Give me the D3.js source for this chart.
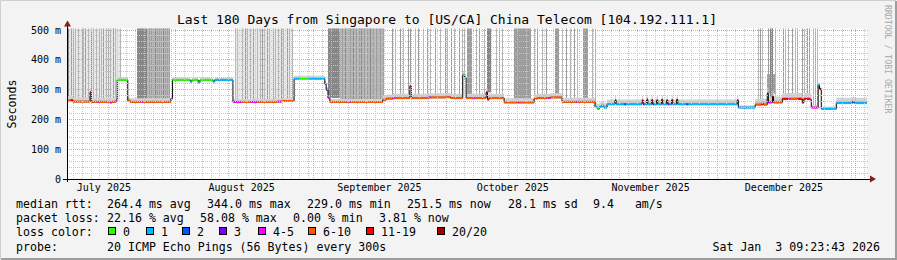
<!DOCTYPE html>
<html>
<head>
<meta charset="utf-8">
<script src="https://cdn.jsdelivr.net/npm/d3@7"></script>
<style>
body { margin: 0; background: #f3f3f3; }
svg text { font-family: "DejaVu Sans Mono", monospace; white-space: pre; }
</style>
</head>
<body>
<script>
// ***************** data *****************
var titleText = "Last 180 Days from Singapore to [US/CA] China Telecom [104.192.111.1]";
var timeRange = ["2025-07-07 16:48", "2026-01-03 16:48"];
var yTicks = [0, 100, 200, 300, 400, 500];
var yTickLabels = ["0", "100 m", "200 m", "300 m", "400 m", "500 m"];

var lossLabels = ["0", "1", "2", "3", "4-5", "6-10", "11-19", "20/20"];
var lossColors = ["#26ff00", "#00b8ff", "#0059ff", "#7e00ff", "#ff00ff", "#ff5500", "#ff0000", "#a10000"];

var rttStats = ["264.4 ms avg", "344.0 ms max", "229.0 ms min", "251.5 ms now", "28.1 ms sd", "9.4   am/s"];
var lossStats = ["22.16 % avg", "58.08 % max", "0.00 % min", "3.81 % now"];
var probeText = "20 ICMP Echo Pings (56 Bytes) every 300s";
var stampText = "Sat Jan  3 09:23:43 2026";

// median rtt (ms) and loss bucket, each row holds until the next one
var medianSteps = [
  ["2025-07-07 17:00", 262, 5], ["2025-07-08 14:00", 263, 6], ["2025-07-09 01:00", 258, 5],
  ["2025-07-12 21:00", 289, 7], ["2025-07-13 03:00", 257, 5], ["2025-07-14 12:00", 257, 4],
  ["2025-07-14 20:00", 257, 5], ["2025-07-17 09:00", 255, 4], ["2025-07-17 20:00", 257, 5],
  ["2025-07-18 18:00", 263, 4], ["2025-07-19 00:00", 331, 0], ["2025-07-21 09:00", 262, 5],
  ["2025-07-21 21:00", 257, 5], ["2025-07-24 12:00", 257, 4], ["2025-07-24 20:00", 257, 5],
  ["2025-07-31 02:00", 268, 4], ["2025-07-31 10:00", 331, 0], ["2025-08-04 10:00", 325, 1],
  ["2025-08-04 20:00", 331, 0], ["2025-08-06 05:00", 322, 1], ["2025-08-06 15:00", 331, 0],
  ["2025-08-09 13:00", 325, 1], ["2025-08-09 23:00", 331, 1], ["2025-08-14 01:00", 257, 4],
  ["2025-08-16 00:00", 257, 5], ["2025-08-18 00:00", 257, 4], ["2025-08-19 12:00", 257, 5],
  ["2025-08-24 00:00", 258, 4], ["2025-08-25 00:00", 260, 5], ["2025-08-27 19:00", 335, 1],
  ["2025-08-29 00:00", 335, 0], ["2025-08-31 00:00", 335, 1], ["2025-09-03 17:00", 318, 2],
  ["2025-09-04 00:00", 298, 3], ["2025-09-04 10:00", 270, 4], ["2025-09-04 20:00", 257, 5],
  ["2025-09-09 00:00", 257, 4], ["2025-09-09 12:00", 257, 5], ["2025-09-16 18:00", 264, 5],
  ["2025-09-17 12:00", 268, 5], ["2025-09-19 00:00", 270, 4], ["2025-09-19 12:00", 270, 5],
  ["2025-09-22 20:00", 309, 7], ["2025-09-23 04:00", 270, 5], ["2025-09-27 00:00", 272, 4],
  ["2025-09-27 12:00", 272, 5], ["2025-10-01 00:00", 273, 5], ["2025-10-02 00:00", 270, 5],
  ["2025-10-04 18:00", 348, 0], ["2025-10-05 04:00", 338, 1], ["2025-10-05 12:00", 270, 5],
  ["2025-10-07 00:00", 270, 4], ["2025-10-07 12:00", 270, 5], ["2025-10-10 00:00", 289, 7],
  ["2025-10-10 08:00", 265, 6], ["2025-10-10 16:00", 270, 5], ["2025-10-14 01:00", 255, 5],
  ["2025-10-17 00:00", 255, 4], ["2025-10-17 12:00", 255, 5], ["2025-10-20 19:00", 268, 5],
  ["2025-10-21 12:00", 270, 5], ["2025-10-24 00:00", 270, 4], ["2025-10-24 12:00", 272, 5],
  ["2025-10-27 02:00", 257, 5], ["2025-10-30 00:00", 257, 4], ["2025-10-30 12:00", 257, 5],
  ["2025-11-03 12:00", 240, 1], ["2025-11-04 00:00", 234, 0], ["2025-11-04 12:00", 240, 1],
  ["2025-11-05 00:00", 244, 1], ["2025-11-05 12:00", 238, 1], ["2025-11-06 05:00", 249, 1],
  ["2025-11-08 00:00", 262, 7], ["2025-11-08 06:00", 249, 1], ["2025-11-10 00:00", 249, 2],
  ["2025-11-10 12:00", 249, 1], ["2025-11-14 02:00", 262, 7], ["2025-11-14 08:00", 249, 3],
  ["2025-11-14 16:00", 249, 1], ["2025-11-15 03:00", 265, 7], ["2025-11-15 09:00", 249, 1],
  ["2025-11-16 06:00", 263, 7], ["2025-11-16 12:00", 249, 2], ["2025-11-16 20:00", 249, 1],
  ["2025-11-17 09:00", 262, 7], ["2025-11-17 15:00", 249, 1], ["2025-11-18 12:00", 264, 7],
  ["2025-11-18 18:00", 249, 1], ["2025-11-19 15:00", 262, 7], ["2025-11-19 21:00", 249, 3],
  ["2025-11-20 06:00", 249, 1], ["2025-11-20 18:00", 263, 7], ["2025-11-21 00:00", 249, 1],
  ["2025-11-21 21:00", 264, 7], ["2025-11-22 03:00", 249, 1], ["2025-11-24 00:00", 249, 2],
  ["2025-11-24 12:00", 249, 1], ["2025-12-05 12:00", 262, 7], ["2025-12-05 18:00", 238, 1],
  ["2025-12-07 00:00", 238, 2], ["2025-12-07 12:00", 238, 1], ["2025-12-09 13:00", 248, 5],
  ["2025-12-11 00:00", 250, 6], ["2025-12-11 12:00", 248, 5], ["2025-12-12 06:00", 285, 7],
  ["2025-12-12 12:00", 255, 4], ["2025-12-13 10:00", 275, 7], ["2025-12-13 16:00", 255, 5],
  ["2025-12-15 15:00", 267, 6], ["2025-12-17 00:00", 267, 4], ["2025-12-17 12:00", 267, 5],
  ["2025-12-19 00:00", 267, 6], ["2025-12-20 03:00", 255, 7], ["2025-12-20 12:00", 267, 6],
  ["2025-12-21 22:00", 265, 4], ["2025-12-22 04:00", 238, 4], ["2025-12-23 17:00", 314, 1],
  ["2025-12-24 00:00", 300, 7], ["2025-12-24 10:00", 234, 1], ["2025-12-27 19:00", 253, 1],
  ["2025-12-31 09:00", 256, 3], ["2025-12-31 20:00", 253, 1], ["2026-01-03 16:48", 253, 1]
];

// smoke spread around the median: ms below, ms above
var smokeBand = [
  ["2025-07-07 17:00", 4, 14], ["2025-07-19 00:00", 3, 8], ["2025-07-21 09:00", 4, 12],
  ["2025-07-31 10:00", 3, 8], ["2025-08-14 01:00", 4, 10], ["2025-08-27 19:00", 3, 10],
  ["2025-09-04 10:00", 4, 10], ["2025-09-16 18:00", 4, 14], ["2025-11-03 12:00", 3, 16],
  ["2025-12-05 18:00", 3, 8], ["2025-12-09 13:00", 4, 20], ["2025-12-22 04:00", 3, 8],
  ["2025-12-27 19:00", 3, 18]
];

// tall smoke (slow pings): start, duration in hours, top ms, shade 0..3
var smokeSpikes = [
  ["2025-07-07 17:00", 286, 600, 0], ["2025-08-14 12:00", 300, 600, 0],
  ["2025-07-07 17:00", 10, 600, 3], ["2025-07-08 14:00", 5, 600, 2], ["2025-07-09 01:00", 5, 600, 2],
  ["2025-07-09 12:00", 5, 600, 1], ["2025-07-10 04:00", 5, 600, 1], ["2025-07-11 02:00", 5, 600, 2],
  ["2025-07-11 07:00", 5, 600, 1], ["2025-07-11 18:00", 5, 600, 2], ["2025-07-12 10:00", 5, 600, 1],
  ["2025-07-13 03:00", 5, 600, 3], ["2025-07-13 14:00", 5, 600, 1], ["2025-07-14 06:00", 5, 600, 1],
  ["2025-07-14 23:00", 5, 600, 2], ["2025-07-15 10:00", 5, 600, 1], ["2025-07-15 21:00", 5, 600, 2],
  ["2025-07-16 13:00", 5, 600, 1], ["2025-07-17 00:00", 5, 600, 2], ["2025-07-17 09:00", 5, 600, 1],
  ["2025-07-18 02:00", 5, 600, 2], ["2025-07-18 12:00", 5, 600, 1], ["2025-07-19 15:00", 5, 600, 1],
  ["2025-07-25 17:00", 126, 600, 1], ["2025-07-23 11:00", 54, 600, 3],
  ["2025-07-26 04:00", 5, 600, 2], ["2025-07-26 15:00", 5, 600, 2], ["2025-07-27 02:00", 5, 600, 2],
  ["2025-07-27 12:00", 5, 600, 3], ["2025-07-27 23:00", 5, 600, 2], ["2025-07-28 10:00", 5, 600, 2],
  ["2025-07-28 20:00", 5, 600, 2], ["2025-07-29 07:00", 5, 600, 3], ["2025-07-29 18:00", 5, 600, 2],
  ["2025-07-30 05:00", 5, 600, 2], ["2025-07-30 15:00", 5, 600, 2],
  ["2025-08-14 12:00", 5, 600, 1], ["2025-08-14 23:00", 5, 600, 1], ["2025-08-16 02:00", 5, 600, 1],
  ["2025-08-16 18:00", 5, 600, 2], ["2025-08-17 05:00", 5, 600, 1], ["2025-08-17 21:00", 5, 600, 1],
  ["2025-08-18 13:00", 5, 600, 2], ["2025-08-19 11:00", 5, 600, 1], ["2025-08-20 03:00", 5, 600, 1],
  ["2025-08-20 14:00", 5, 600, 2], ["2025-08-21 00:00", 5, 600, 1], ["2025-08-21 17:00", 5, 600, 2],
  ["2025-08-22 04:00", 5, 600, 1], ["2025-08-23 01:00", 5, 600, 2], ["2025-08-23 12:00", 5, 600, 1],
  ["2025-08-24 05:00", 5, 600, 1], ["2025-08-24 20:00", 5, 600, 2], ["2025-08-25 07:00", 5, 600, 1],
  ["2025-08-26 05:00", 5, 600, 2], ["2025-08-26 16:00", 5, 600, 1], ["2025-08-27 07:00", 5, 600, 1],
  ["2025-09-07 02:00", 232, 600, 1], ["2025-09-04 10:00", 64, 600, 3],
  ["2025-09-07 13:00", 5, 600, 2], ["2025-09-08 05:00", 5, 600, 3], ["2025-09-08 22:00", 5, 600, 2],
  ["2025-09-09 08:00", 5, 600, 2], ["2025-09-10 01:00", 5, 600, 3], ["2025-09-10 17:00", 5, 600, 2],
  ["2025-09-11 10:00", 5, 600, 2], ["2025-09-11 20:00", 5, 600, 3], ["2025-09-12 12:00", 5, 600, 2],
  ["2025-09-13 04:00", 5, 600, 2], ["2025-09-13 20:00", 5, 600, 3], ["2025-09-14 12:00", 5, 600, 2],
  ["2025-09-15 04:00", 5, 600, 2], ["2025-09-16 02:00", 5, 600, 2], ["2025-09-16 18:00", 5, 600, 2],
  ["2025-09-18 19:00", 5, 600, 2], ["2025-09-19 11:00", 5, 600, 1], ["2025-09-20 14:00", 5, 600, 2],
  ["2025-09-21 06:00", 5, 600, 1], ["2025-09-22 09:00", 5, 600, 2], ["2025-09-22 20:00", 5, 600, 2],
  ["2025-09-23 23:00", 5, 600, 1], ["2025-09-24 15:00", 5, 600, 2], ["2025-09-25 18:00", 5, 600, 1],
  ["2025-09-26 16:00", 5, 600, 2], ["2025-09-27 08:00", 5, 600, 1], ["2025-09-28 11:00", 5, 600, 2],
  ["2025-09-29 14:00", 5, 600, 1], ["2025-09-30 17:00", 5, 600, 2], ["2025-10-01 05:00", 5, 600, 1],
  ["2025-10-02 03:00", 5, 600, 2], ["2025-10-02 19:00", 5, 600, 1], ["2025-10-03 22:00", 5, 600, 2],
  ["2025-10-04 14:00", 5, 600, 1], ["2025-10-05 01:00", 5, 600, 2],
  ["2025-10-05 17:00", 27, 600, 2], ["2025-10-07 18:00", 5, 600, 1], ["2025-10-08 10:00", 5, 600, 2],
  ["2025-10-09 13:00", 5, 600, 1], ["2025-10-10 05:00", 22, 600, 3], ["2025-10-12 06:00", 5, 600, 1],
  ["2025-10-12 22:00", 5, 600, 2], ["2025-10-13 14:00", 5, 600, 1],
  ["2025-10-16 07:00", 92, 600, 2], ["2025-10-20 19:00", 5, 600, 1], ["2025-10-21 11:00", 5, 600, 2],
  ["2025-10-22 14:00", 5, 600, 1], ["2025-10-23 12:00", 5, 600, 2], ["2025-10-25 13:00", 21, 600, 2],
  ["2025-10-27 02:00", 5, 600, 1], ["2025-10-28 00:00", 5, 600, 2], ["2025-10-28 22:00", 5, 600, 1],
  ["2025-10-29 20:00", 5, 600, 2], ["2025-10-30 12:00", 5, 600, 1], ["2025-10-31 19:00", 27, 600, 2],
  ["2025-11-02 19:00", 5, 600, 1], ["2025-11-03 12:00", 5, 600, 1],
  ["2025-12-10 05:00", 5, 600, 1], ["2025-12-10 16:00", 5, 600, 2], ["2025-12-11 03:00", 5, 600, 1],
  ["2025-12-12 06:00", 43, 350, 2], ["2025-12-12 11:00", 5, 600, 2], ["2025-12-12 22:00", 17, 600, 3],
  ["2025-12-14 01:00", 5, 600, 1], ["2025-12-15 20:00", 5, 600, 2], ["2025-12-16 07:00", 5, 600, 1],
  ["2025-12-16 23:00", 5, 600, 2], ["2025-12-17 21:00", 5, 600, 2], ["2025-12-18 13:00", 5, 600, 1],
  ["2025-12-19 00:00", 5, 600, 2], ["2025-12-20 03:00", 5, 600, 2], ["2025-12-20 13:00", 5, 600, 1],
  ["2025-12-21 05:00", 5, 600, 2], ["2025-12-21 16:00", 5, 600, 2], ["2025-12-22 14:00", 5, 600, 1],
  ["2025-12-23 00:00", 5, 600, 2], ["2025-12-23 11:00", 5, 600, 1]
];

// *************************** layout ***************************
var width = 897, height = 260;
var plotLeft = 67, plotRight = 867, plotTop = 29.5, plotBottom = 178.5;
var shadeColors = ["#e8e8e8", "#b6b6b6", "#9d9d9d", "#878787"];
var parseT = d3.utcParse("%Y-%m-%d %H:%M");

var steps = medianSteps.map(function(d) { return {t: parseT(d[0]), v: d[1], loss: d[2]}; });
var band = smokeBand.map(function(d) { return {t: parseT(d[0]), lo: d[1], hi: d[2]}; });
var spikes = smokeSpikes.map(function(d) { return {t: parseT(d[0]), h: d[1], top: d[2], shade: d[3]}; });

var x = d3.scaleUtc()
    .domain(timeRange.map(parseT))
    .range([plotLeft, plotRight]);
var y = d3.scaleLinear()
    .domain([0, 500])
    .range([plotBottom, plotTop]);

var bisect = d3.bisector(function(d) { return d.t; }).right;
function medianAt(t) { return steps[Math.max(0, bisect(steps, t) - 1)].v; }
function bandAt(t) { return band[Math.max(0, bisect(band, t) - 1)]; }

var svg = d3.select("body").append("svg")
    .attr("width", width)
    .attr("height", height);

// background and shaded frame
svg.append("rect").attr("width", width).attr("height", height).attr("fill", "#f3f3f3");
svg.append("path").attr("d", "M0.5," + (height - 1) + "V0.5H" + (width - 1))
    .attr("fill", "none").attr("stroke", "#cfcfcf");
svg.append("path").attr("d", "M1," + (height - 1) + "H" + (width - 1) + "V1")
    .attr("fill", "none").attr("stroke", "#9e9e9e").attr("stroke-width", 2);

svg.append("rect")
    .attr("x", plotLeft).attr("y", plotTop - 1)
    .attr("width", plotRight - plotLeft).attr("height", plotBottom - plotTop + 1)
    .attr("fill", "#fff");

var plot = svg.append("g");

//*********************** smoke ***********************
var bandPts = steps.map(function(d) { var b = bandAt(d.t); return {t: d.t, v: d.v, lo: b.lo, hi: b.hi}; });

// tall columns first, the dense band around the median goes over them
var spikeG = plot.append("g").attr("class", "spikes");
spikes.forEach(function(d) {
  var x0 = Math.round(x(d.t));
  var x1 = Math.max(x0 + 1, Math.round(x(d3.utcHour.offset(d.t, d.h))));
  var yTop = Math.max(plotTop - 1, y(d.top));
  var yBot = y(medianAt(d.t));
  spikeG.append("rect")
      .attr("x", x0)
      .attr("y", yTop)
      .attr("width", x1 - x0)
      .attr("height", Math.max(0, yBot - yTop))
      .attr("fill", shadeColors[d.shade]);
});

plot.append("path")
    .datum(bandPts)
    .attr("fill", "#d3d3d3")
    .attr("d", d3.area().curve(d3.curveStepAfter)
        .x(function(d) { return x(d.t); })
        .y0(function(d) { return y(d.v - d.lo); })
        .y1(function(d) { return y(d.v + d.hi); }));
plot.append("path")
    .datum(bandPts)
    .attr("fill", "#b3b3b3")
    .attr("d", d3.area().curve(d3.curveStepAfter)
        .x(function(d) { return x(d.t); })
        .y0(function(d) { return y(d.v - d.lo / 2); })
        .y1(function(d) { return y(d.v + d.hi / 3); }));

//*********************** grid ***********************
var minorY = y.ticks(25).filter(function(v) { return v % 100 !== 0; });
var majorY = yTicks.filter(function(v) { return v > 0; });
var minorX = d3.utcDay.every(2).range(x.domain()[0], x.domain()[1]);
var majorX = d3.utcMonth.range(x.domain()[0], x.domain()[1]);

var grid = svg.append("g").attr("shape-rendering", "crispEdges");
grid.selectAll(".gy").data(minorY).enter().append("line")
    .attr("x1", plotLeft).attr("x2", plotRight + 2)
    .attr("y1", function(d) { return Math.round(y(d)) + 0.5; })
    .attr("y2", function(d) { return Math.round(y(d)) + 0.5; })
    .attr("stroke", "#c4c4c4").attr("stroke-dasharray", "1,1");
grid.selectAll(".gx").data(minorX).enter().append("line")
    .attr("x1", function(d) { return Math.round(x(d)) + 0.5; })
    .attr("x2", function(d) { return Math.round(x(d)) + 0.5; })
    .attr("y1", plotTop - 1).attr("y2", plotBottom)
    .attr("stroke", "#c4c4c4").attr("stroke-dasharray", "1,1");
grid.selectAll(".my").data(majorY).enter().append("line")
    .attr("x1", plotLeft).attr("x2", plotRight + 2)
    .attr("y1", function(d) { return Math.round(y(d)) + 0.5; })
    .attr("y2", function(d) { return Math.round(y(d)) + 0.5; })
    .attr("stroke", "#e79a9a").attr("stroke-dasharray", "1,1");
grid.selectAll(".mx").data(majorX).enter().append("line")
    .attr("x1", function(d) { return Math.round(x(d)) + 0.5; })
    .attr("x2", function(d) { return Math.round(x(d)) + 0.5; })
    .attr("y1", plotTop - 1).attr("y2", plotBottom)
    .attr("stroke", "#e79a9a").attr("stroke-dasharray", "1,1");

//*********************** median line ***********************
plot.append("path")
    .datum(steps)
    .attr("fill", "none")
    .attr("stroke", "#000")
    .attr("stroke-width", 1)
    .attr("d", d3.line().curve(d3.curveStepAfter)
        .x(function(d) { return x(d.t); })
        .y(function(d) { return y(d.v); }));

plot.selectAll(".seg")
    .data(d3.pairs(steps))
  .enter().append("line")
    .attr("class", "seg")
    .attr("x1", function(d) { return x(d[0].t); })
    .attr("x2", function(d) { return x(d[1].t); })
    .attr("y1", function(d) { return y(d[0].v); })
    .attr("y2", function(d) { return y(d[0].v); })
    .attr("stroke", function(d) { return lossColors[d[0].loss]; })
    .attr("stroke-width", 2);

//*********************** axes ***********************
svg.append("line")
    .attr("x1", plotLeft - 4).attr("x2", plotRight + 4)
    .attr("y1", plotBottom + 0.5).attr("y2", plotBottom + 0.5)
    .attr("stroke", "#000").attr("shape-rendering", "crispEdges");
svg.append("line")
    .attr("x1", plotLeft + 0.5).attr("x2", plotLeft + 0.5)
    .attr("y1", plotBottom + 3).attr("y2", plotTop - 4)
    .attr("stroke", "#000").attr("shape-rendering", "crispEdges");
svg.append("path")
    .attr("d", "M" + (plotRight + 3) + "," + (plotBottom - 3) + "L" + (plotRight + 9) + "," + (plotBottom + 0.5) + "L" + (plotRight + 3) + "," + (plotBottom + 4) + "Z")
    .attr("fill", "#7f1f1f");
svg.append("path")
    .attr("d", "M" + (plotLeft - 3) + "," + (plotTop - 3) + "L" + (plotLeft + 0.5) + "," + (plotTop - 9) + "L" + (plotLeft + 4) + "," + (plotTop - 3) + "Z")
    .attr("fill", "#7f1f1f");

var yAxis = d3.axisLeft(y)
    .tickValues(yTicks)
    .tickSize(0)
    .tickPadding(6)
    .tickFormat(function(d, i) { return yTickLabels[i]; });
var gy = svg.append("g")
    .attr("transform", "translate(" + plotLeft + ",0)")
    .call(yAxis);
gy.select(".domain").remove();
gy.selectAll("text")
    .attr("font-family", "DejaVu Sans Mono")
    .attr("font-size", "10px")
    .attr("fill", "#000")
    .attr("dy", "0.35em");

var monthFmt = d3.utcFormat("%B %Y");
var monthLabels = d3.utcMonth.range(d3.utcMonth.floor(x.domain()[0]), x.domain()[1])
    .filter(function(m) { return d3.utcDay.offset(m, 15) < x.domain()[1]; });
svg.selectAll(".month")
    .data(monthLabels)
  .enter().append("text")
    .attr("class", "month")
    .attr("x", function(d) { return x(d3.utcDay.offset(d, 15)); })
    .attr("y", 190.5)
    .attr("text-anchor", "middle")
    .style("font-size", "10px")
    .text(function(d) { return monthFmt(d); });

//*********************** titles ***********************
svg.append("text")
    .attr("x", 447).attr("y", 24)
    .attr("text-anchor", "middle")
    .style("font-size", "13px")
    .text(titleText);

svg.append("text")
    .attr("transform", "translate(15.5,104) rotate(-90)")
    .attr("text-anchor", "middle")
    .style("font-size", "11.6px")
    .text("Seconds");

svg.append("text")
    .attr("transform", "translate(885,5) rotate(90)")
    .style("font-size", "8.2px")
    .attr("fill", "#a8a8a8")
    .text("RRDTOOL / TOBI OETIKER");

//*********************** legend ***********************
var legend = svg.append("g").style("font-size", "11.6px");
var rttX = [107, 207, 307, 407, 508, 593];
var lossX = [107, 200, 293, 379];
var boxX = [108, 146, 182, 219, 258, 308, 366, 437];

legend.append("text").attr("x", 16).attr("y", 208).text("median rtt:");
legend.selectAll(".rtt").data(rttStats).enter().append("text")
    .attr("x", function(d, i) { return rttX[i]; }).attr("y", 208).text(function(d) { return d; });

legend.append("text").attr("x", 16).attr("y", 222).text("packet loss:");
legend.selectAll(".pl").data(lossStats).enter().append("text")
    .attr("x", function(d, i) { return lossX[i]; }).attr("y", 222).text(function(d) { return d; });

legend.append("text").attr("x", 16).attr("y", 236).text("loss color:");
legend.selectAll(".lbox").data(lossLabels).enter().append("rect")
    .attr("x", function(d, i) { return boxX[i] + 0.5; }).attr("y", 227.5)
    .attr("width", 7).attr("height", 7)
    .attr("fill", function(d, i) { return lossColors[i]; })
    .attr("stroke", "#000");
legend.selectAll(".ltxt").data(lossLabels).enter().append("text")
    .attr("x", function(d, i) { return boxX[i] + 15; }).attr("y", 236)
    .text(function(d) { return d; });

legend.append("text").attr("x", 16).attr("y", 250.5).text("probe:");
legend.append("text").attr("x", 107).attr("y", 250.5).text(probeText);
legend.append("text").attr("x", 880).attr("y", 250.5).attr("text-anchor", "end").text(stampText);
</script>
</body>
</html>
